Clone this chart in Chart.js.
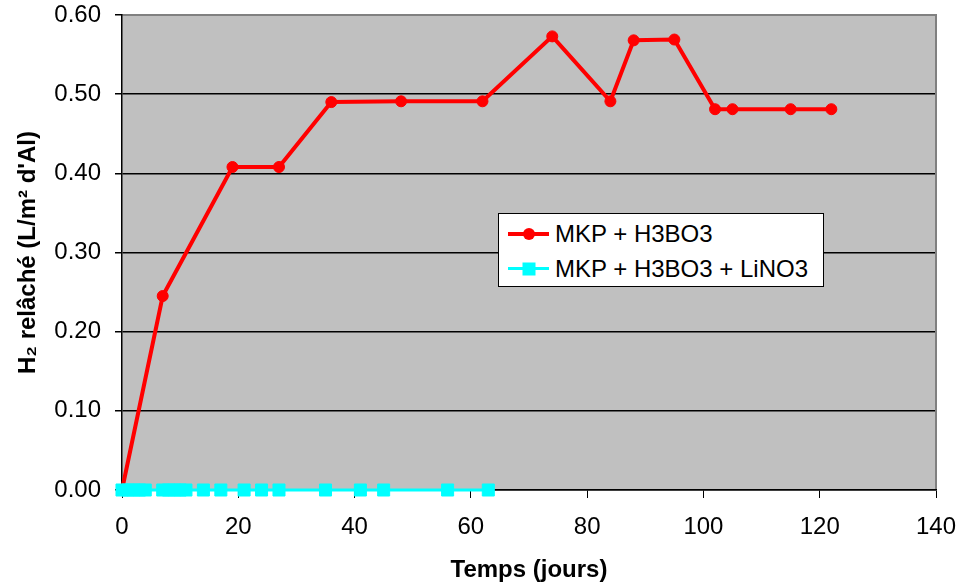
<!DOCTYPE html>
<html>
<head>
<meta charset="utf-8">
<script src="https://cdn.jsdelivr.net/npm/chart.js@4"></script>
<style>
  html, body { margin: 0; padding: 0; background: #fff; }
  #wrap { position: relative; width: 960px; height: 587px; }
  #legend {
    position: absolute; left: 498px; top: 213px; width: 324px; height: 70px;
    background: #fff; border: 1px solid #000; box-sizing: content-box;
    font-family: "Liberation Sans", Arial, sans-serif; font-size: 24px; color: #000;
    padding-top: 2px;
  }
  .row { position: relative; height: 35px; }
  .row .ln { position: absolute; left: 9px; width: 41px; top: 50%; }
  .row .mk { position: absolute; left: 50%; top: 50%; transform: translate(-50%, -50%); }
  .row .tx { position: absolute; left: 56px; top: 50%; transform: translateY(-50%); white-space: nowrap; }
</style>
</head>
<body>
<div id="wrap">
  <canvas id="chart" width="960" height="587"></canvas>
  <div id="legend"></div>
</div>
<script>
// donnees
const seriesNames = ['MKP + H3BO3', 'MKP + H3BO3 + LiNO3'];

const daysA = [0, 7, 19, 27, 36, 48, 62, 74, 84, 88, 95, 102, 105, 115, 122];
const h2A   = [0.00, 0.245, 0.408, 0.408, 0.490, 0.491, 0.491, 0.573, 0.491, 0.568, 0.569, 0.481, 0.481, 0.481, 0.481];

const daysB = [0, 1, 2, 3, 4, 7, 8, 9, 10, 11, 14, 17, 21, 24, 27, 35, 41, 45, 56, 63];
const h2B   = [0, 0, 0, 0, 0, 0, 0, 0, 0, 0, 0, 0, 0, 0, 0, 0, 0, 0, 0, 0];

const xTicks = [0, 20, 40, 60, 80, 100, 120, 140];
const yTicks = [0.00, 0.10, 0.20, 0.30, 0.40, 0.50, 0.60];

const colors = ['#FF0000', '#00FFFF'];

const pts = (xs, ys) => xs.map((x, i) => ({ x, y: ys[i] }));

const FONT = '"Liberation Sans", Arial, sans-serif';
Chart.defaults.font.family = FONT;
Chart.defaults.color = '#000';

/* fond gris + bord du trace */
const plotBg = {
  id: 'plotBg',
  beforeDraw(c) {
    const a = c.chartArea, ctx = c.ctx;
    ctx.save();
    ctx.fillStyle = '#C0C0C0';
    ctx.fillRect(a.left, a.top, a.right - a.left, a.bottom - a.top);
    ctx.restore();
  },
  afterDraw(c) {
    const a = c.chartArea, ctx = c.ctx;
    ctx.save();
    ctx.strokeStyle = '#808080';
    ctx.lineWidth = 2;
    ctx.beginPath();
    ctx.moveTo(a.left + 1, a.top);
    ctx.lineTo(a.right, a.top);
    ctx.lineTo(a.right, a.bottom - 1);
    ctx.stroke();
    ctx.restore();
  }
};

const chart = new Chart(document.getElementById('chart'), {
  type: 'line',
  data: {
    datasets: [
      {
        label: seriesNames[0],
        data: pts(daysA, h2A),
        borderColor: colors[0], backgroundColor: colors[0],
        borderWidth: 4, pointRadius: 5.5, pointBorderWidth: 1,
        pointStyle: 'circle', clip: false, order: 1
      },
      {
        label: seriesNames[1],
        data: pts(daysB, h2B),
        borderColor: colors[1], backgroundColor: colors[1],
        borderWidth: 3, pointRadius: 8.5, pointBorderWidth: 1,
        pointStyle: 'rect', clip: false, order: 0
      }
    ]
  },
  options: {
    responsive: false,
    animation: false,
    layout: { padding: { left: 0, top: 15, right: 24, bottom: 0 } },
    plugins: { legend: { display: false }, tooltip: { enabled: false } },
    scales: {
      x: {
        type: 'linear', min: 0, max: 140,
        afterBuildTicks: (s) => { s.ticks = xTicks.map(v => ({ value: v })); },
        ticks: { font: { size: 24 }, padding: 15, maxRotation: 0 },
        grid: { drawOnChartArea: false, color: '#000', tickLength: 8, tickWidth: 1 },
        border: { color: '#000', width: 1.5 },
        title: {
          display: true, text: 'Temps (jours)',
          font: { size: 24, weight: 'bold' }, padding: { top: 0, bottom: 2 }
        },
        afterFit: (s) => { s.height = 97; s.paddingLeft = 0; s.paddingRight = 0; }
      },
      y: {
        type: 'linear', min: 0, max: 0.6,
        afterBuildTicks: (s) => { s.ticks = yTicks.map(v => ({ value: v })); },
        ticks: { font: { size: 24 }, padding: 14, callback: (v) => v.toFixed(2) },
        grid: { color: '#000', lineWidth: 1.5, tickLength: 7 },
        border: { color: '#000', width: 1.5 },
        title: {
          display: true, text: 'H\u2082 relâché (L/m\u00B2 d\'Al)',
          font: { size: 24, weight: 'bold' }, padding: { top: 14, bottom: 0 }
        },
        afterFit: (s) => { s.width = 122; s.paddingTop = 0; s.paddingBottom = 0; }
      }
    }
  },
  plugins: [plotBg]
});

/* legende dans le trace */
const leg = document.getElementById('legend');
chart.data.datasets.forEach((ds, i) => {
  const row = document.createElement('div');
  row.className = 'row';
  const ln = document.createElement('div');
  ln.className = 'ln';
  ln.style.height = ds.borderWidth + 'px';
  ln.style.marginTop = (-ds.borderWidth / 2) + 'px';
  ln.style.background = ds.borderColor;
  const mk = document.createElement('div');
  mk.className = 'mk';
  const sz = ds.pointStyle === 'rect' ? 13 : 12;
  mk.style.width = sz + 'px';
  mk.style.height = sz + 'px';
  mk.style.background = ds.backgroundColor;
  if (ds.pointStyle === 'circle') mk.style.borderRadius = '50%';
  ln.appendChild(mk);
  const tx = document.createElement('span');
  tx.className = 'tx';
  tx.textContent = ds.label;
  row.appendChild(ln);
  row.appendChild(tx);
  leg.appendChild(row);
});
</script>
</body>
</html>
